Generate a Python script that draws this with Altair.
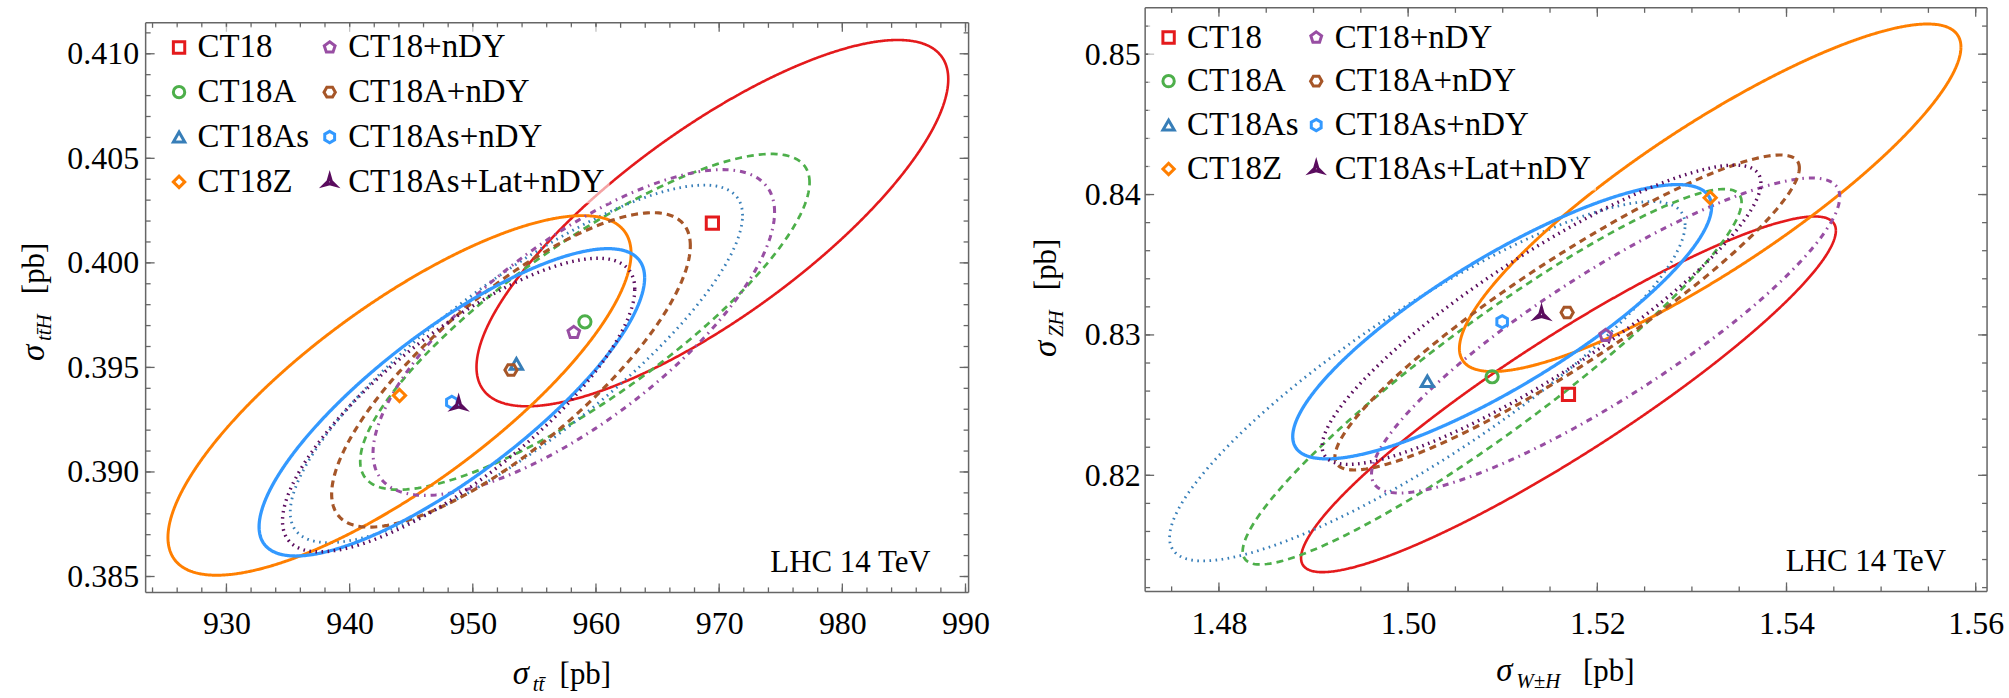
import numpy as np
import pandas as pd
import altair as alt

# ---------------- data ----------------
names = ["CT18", "CT18A", "CT18As", "CT18Z", "CT18+nDY", "CT18A+nDY", "CT18As+nDY", "CT18As+Lat+nDY"]

# left panel: sigma_ttbar (x) vs sigma_ttH (y): centre, half-widths, correlation
tt_x0 = [969.45, 959.1, 953.54, 944.05, 958.2, 953.1, 948.3, 948.85]
tt_y0 = [0.4019, 0.39718, 0.39517, 0.39366, 0.39667, 0.39488, 0.39333, 0.3932]
tt_dx = [19.15, 18.24, 18.36, 18.8, 16.3, 14.56, 15.65, 14.3]
tt_dy = [0.00876, 0.00803, 0.00855, 0.0086, 0.00779, 0.00752, 0.00735, 0.00702]
tt_rho = [0.786, 0.83, 0.83, 0.79, 0.74, 0.79, 0.81, 0.79]

# right panel: sigma_WH (x) vs sigma_ZH (y)
vh_x0 = [1.51695, 1.50888, 1.50203, 1.53193, 1.52088, 1.51681, 1.50994, 1.5141]
vh_y0 = [0.82577, 0.82702, 0.8267, 0.83977, 0.82996, 0.8316, 0.83094, 0.83144]
vh_dx = [0.02827, 0.02637, 0.02725, 0.02651, 0.02475, 0.02455, 0.02214, 0.02319]
vh_dy = [0.01267, 0.01337, 0.0128, 0.01238, 0.01122, 0.01122, 0.00977, 0.01066]
vh_rho = [0.92, 0.93, 0.87, 0.867, 0.88, 0.917, 0.837, 0.88]

tt_xticks = [930, 940, 950, 960, 970, 980, 990]
tt_yticks = [0.385, 0.390, 0.395, 0.400, 0.405, 0.410]
vh_xticks = [1.48, 1.50, 1.52, 1.54, 1.56]
vh_yticks = [0.82, 0.83, 0.84, 0.85]

tt_xtitle = ["σ", "tt\u0304", "[pb]"]
tt_ytitle = ["σ", "tt\u0304H", "[pb]"]
vh_xtitle = ["σ", "W\u00b1H", "[pb]"]
vh_ytitle = ["σ", "ZH", "[pb]"]
note = "LHC 14 TeV"

# ---------------- styles ----------------
style_color = {"CT18": "#e41a1c", "CT18A": "#4daf4a", "CT18As": "#377eb8", "CT18Z": "#ff7f00",
               "CT18+nDY": "#984ea3", "CT18A+nDY": "#a65628", "CT18As+nDY": "#3399ff",
               "CT18As+Lat+nDY": "#5a0c5e"}
style_dash = {"CT18": [1, 0], "CT18A": [7, 5], "CT18As": [1.6, 4.5], "CT18Z": [1, 0],
              "CT18+nDY": [6, 5, 1.6, 5], "CT18A+nDY": [7, 5], "CT18As+nDY": [1, 0],
              "CT18As+Lat+nDY": [1.6, 4.5]}
style_width = {"CT18": 2.6, "CT18A": 3.4, "CT18As": 2.8, "CT18Z": 2.6,
               "CT18+nDY": 3.0, "CT18A+nDY": 3.4, "CT18As+nDY": 2.6, "CT18As+Lat+nDY": 2.8}
PENT = "M0,-1L0.951,-0.309L0.588,0.809L-0.588,0.809L-0.951,-0.309Z"
HEXF = "M-0.5,-0.866L0.5,-0.866L1,0L0.5,0.866L-0.5,0.866L-1,0Z"
HEXP = "M0,-1L0.866,-0.5L0.866,0.5L0,1L-0.866,0.5L-0.866,-0.5Z"
TRI = "M0,-1.15L0.3,-0.1L1.0,0.6L0,0.32L-1.0,0.6L-0.3,-0.1Z"
style_shape = {"CT18": "square", "CT18A": "circle", "CT18As": "triangle-up", "CT18Z": "diamond",
               "CT18+nDY": PENT, "CT18A+nDY": HEXF, "CT18As+nDY": HEXP, "CT18As+Lat+nDY": TRI}

FONT = "Liberation Serif"
GRAY = "#666666"
ONE = alt.Data(values=[{"a": 1}])


def ellipse_df(x0, y0, dx, dy, rho, n=241):
    t = np.linspace(0, 2 * np.pi, n)
    parts = []
    for nm, a, b, c, d, r in zip(names, x0, y0, dx, dy, rho):
        phi = np.arccos(r)
        parts.append(pd.DataFrame({"pdf": nm, "x": a + c * np.cos(t),
                                   "y": b + d * np.cos(t - phi), "i": np.arange(n)}))
    return pd.concat(parts, ignore_index=True)


def minor(lo, hi, step):
    k0 = int(np.ceil(lo / step - 1e-9))
    k1 = int(np.floor(hi / step + 1e-9))
    return [round(k * step, 6) for k in range(k0, k1 + 1)]


def text_piece(txt, x, y, size, italic=False, angle=0):
    return alt.Chart(ONE).mark_text(
        text=txt, font=FONT, fontSize=size, fontStyle="italic" if italic else "normal",
        align="left", baseline="alphabetic", angle=angle, color="black"
    ).encode(x=alt.value(x), y=alt.value(y))


def panel(x0, y0, dx, dy, rho, xdom, ydom, xt, yt, xminor, yminor, xfmt, yfmt,
          W, H, top, xlpad, ylpad, leg_xy, colpad, rowpad, note_xy, xtitle, xt_pos, ytitle, yt_pos):
    xs = alt.Scale(domain=xdom, nice=False, zero=False)
    ys = alt.Scale(domain=ydom, nice=False, zero=False)
    xaxis = alt.Axis(values=xt, format=xfmt, ticks=False, domain=False, grid=False, title=None,
                     labelFont=FONT, labelFontSize=32, labelColor="black",
                     labelPadding=xlpad, tickSize=0, labelFlush=False)
    yaxis = alt.Axis(values=yt, format=yfmt, ticks=False, domain=False, grid=False, title=None,
                     labelFont=FONT, labelFontSize=32, labelColor="black",
                     labelPadding=ylpad, tickSize=0, labelFlush=False)
    X = lambda f: alt.X(f, scale=xs, axis=xaxis, title=None)
    Y = lambda f: alt.Y(f, scale=ys, axis=yaxis, title=None)

    ell = ellipse_df(x0, y0, dx, dy, rho)
    cen = pd.DataFrame({"pdf": names, "x": x0, "y": y0})
    cscale = alt.Scale(domain=names, range=[style_color[n] for n in names])

    lines = alt.Chart(ell).mark_line(clip=True).encode(
        x=X("x:Q"), y=Y("y:Q"),
        color=alt.Color("pdf:N", scale=cscale, legend=None),
        strokeDash=alt.StrokeDash("pdf:N", scale=alt.Scale(domain=names,
                                                           range=[style_dash[n] for n in names]),
                                  legend=None),
        strokeWidth=alt.StrokeWidth("pdf:N", scale=alt.Scale(domain=names,
                                                             range=[style_width[n] for n in names]),
                                    legend=None),
        detail="pdf:N",
        order="i:Q",
    )

    leg = alt.Legend(orient="none", legendX=leg_xy[0], legendY=leg_xy[1], columns=2, title=None,
                     labelFont=FONT, labelFontSize=33, labelColor="black", symbolStrokeWidth=3,
                     symbolSize=130, rowPadding=rowpad, columnPadding=colpad, labelOffset=2,
                     labelLimit=600, padding=4, fillColor="rgba(255,255,255,0.6)")
    pts = alt.Chart(cen).mark_point(filled=False, size=150, strokeWidth=3, opacity=1).encode(
        x=X("x:Q"), y=Y("y:Q"),
        color=alt.Color("pdf:N", scale=cscale, legend=leg, sort=names),
        shape=alt.Shape("pdf:N", scale=alt.Scale(domain=names,
                                                 range=[style_shape[n] for n in names]),
                        legend=leg, sort=names),
    )

    layers = [lines]
    # inward ticks on all four sides
    for vals, ln in ((xt, 9), (xminor, 5)):
        d = pd.DataFrame({"v": vals})
        layers.append(alt.Chart(d).mark_rule(color=GRAY, strokeWidth=1.3).encode(
            x=X("v:Q"), y=alt.value(H), y2=alt.value(H - ln)))
        layers.append(alt.Chart(d).mark_rule(color=GRAY, strokeWidth=1.3).encode(
            x=X("v:Q"), y=alt.value(top), y2=alt.value(top + ln)))
    for vals, ln in ((yt, 9), (yminor, 5)):
        d = pd.DataFrame({"v": vals})
        layers.append(alt.Chart(d).mark_rule(color=GRAY, strokeWidth=1.3).encode(
            y=Y("v:Q"), x=alt.value(0), x2=alt.value(ln)))
        layers.append(alt.Chart(d).mark_rule(color=GRAY, strokeWidth=1.3).encode(
            y=Y("v:Q"), x=alt.value(W), x2=alt.value(W - ln)))
    # frame
    fr = dict(color=GRAY, strokeWidth=1.5)
    layers += [
        alt.Chart(ONE).mark_rule(**fr).encode(x=alt.value(0), x2=alt.value(W), y=alt.value(top)),
        alt.Chart(ONE).mark_rule(**fr).encode(x=alt.value(0), x2=alt.value(W), y=alt.value(H)),
        alt.Chart(ONE).mark_rule(**fr).encode(x=alt.value(0), y=alt.value(top), y2=alt.value(H)),
        alt.Chart(ONE).mark_rule(**fr).encode(x=alt.value(W), y=alt.value(top), y2=alt.value(H)),
    ]
    layers.append(pts)

    # composed axis titles (math-style subscripts)
    bx, by, bgap = xt_pos
    layers += [
        text_piece(xtitle[0], bx, by, 33, True),
        text_piece(xtitle[1], bx + 20, by + 7, 21, True),
        text_piece(xtitle[2], bx + bgap, by, 31),
    ]
    cx, cy, cgap = yt_pos
    layers += [
        text_piece(ytitle[0], cx, cy, 33, True, 270),
        text_piece(ytitle[1], cx + 7, cy - 20, 21, True, 270),
        text_piece(ytitle[2], cx, cy - cgap, 31, False, 270),
    ]
    layers.append(alt.Chart(ONE).mark_text(
        text=note, font=FONT, fontSize=31, align="right", baseline="alphabetic", color="black"
    ).encode(x=alt.value(note_xy[0]), y=alt.value(note_xy[1])))

    return alt.layer(*layers).resolve_scale(
        color="independent", shape="independent", strokeDash="independent",
        strokeWidth="independent"
    ).properties(width=W, height=H)


# left view extends 15 px above its frame so that the frames sit as in the reference
L_TOP = 15
left = panel(tt_x0, tt_y0, tt_dx, tt_dy, tt_rho, [923.44, 990.25], [0.38424, 0.412196],
             tt_xticks, tt_yticks, minor(923.44, 990.25, 2), minor(0.38424, 0.41148, 0.001),
             "d", ".3f", 825, 586, L_TOP, 16, 7, (13, 19), 4, 11, (787, 566),
             tt_xtitle, (368, 678, 47), tt_ytitle, (-102, 354, 67))
right = panel(vh_x0, vh_y0, vh_dx, vh_dy, vh_rho, [1.4722, 1.5612], [0.81173, 0.8533],
              vh_xticks, vh_yticks, minor(1.4722, 1.5612, 0.005), minor(0.81173, 0.8533, 0.002),
              ".2f", ".2f", 844, 585, 0, 17, 5, (3, 9), 1, 10, (803, 565),
              vh_xtitle, (352, 675, 87), vh_ytitle, (-89, 350, 67))

chart = alt.hconcat(left, right, spacing=41).properties(
    padding={"left": 18, "top": 6, "right": 5, "bottom": 5}, background="white"
).configure(font=FONT).configure_axis(labelFont=FONT).configure_legend(
    labelFont=FONT
).configure_text(font=FONT).configure_view(stroke=None)

chart.save("out.html", embed_options={"renderer": "svg", "actions": False})
